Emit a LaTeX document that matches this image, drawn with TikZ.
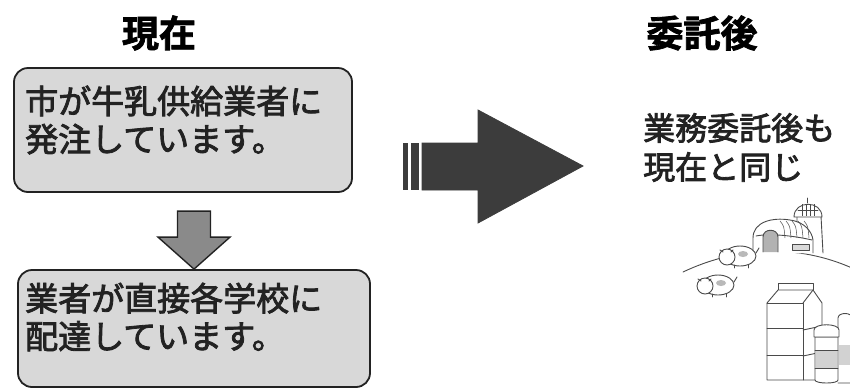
\documentclass[tikz,border=0pt]{standalone}
\usepackage{fontspec}
\newfontfamily\jp{Noto Sans CJK JP}[FakeBold=2.5]
\newfontfamily\jpheavy{Noto Sans CJK JP}[UprightFont={* Bold}, FakeBold=2]
\usetikzlibrary{calc}
\definecolor{boxfill}{HTML}{D8D8D8}
\definecolor{ink}{HTML}{222222}
\definecolor{downfill}{HTML}{8A8A8A}
\definecolor{bigfill}{HTML}{3C3C3C}
\definecolor{linegray}{HTML}{4A4A4A}
\tikzset{
  title/.style={font=\jpheavy\fontsize{37}{37}\selectfont, text=black, inner sep=0pt},
  panel/.style={draw=ink, line width=1.8pt, fill=boxfill, rounded corners=14pt, inner sep=0pt},
  paneltext/.style={font=\jp\fontsize{33}{38}\selectfont, text=ink, align=left, anchor=west, inner sep=0pt},
  sidetext/.style={font=\jp\fontsize{32}{39}\selectfont, text=ink, align=left, anchor=west, inner sep=0pt},
  downarrow/.style={draw=ink, line width=1.4pt, fill=downfill, line join=miter},
  bigarrow/.style={fill=bigfill, draw=bigfill, line width=0.8pt},
  sketch/.style={draw=linegray, line width=0.9pt, line join=round, line cap=round},
}
\begin{document}
\begin{tikzpicture}[x=1pt, y=-1pt]
\useasboundingbox (0,0) rectangle (850,389);

% column titles
\node[title] (nowtitle) at (159,33) {現在};
\node[title] (aftertitle) at (702,33) {委託後};

% current flow: order, then delivery
\node[panel, minimum width=338pt, minimum height=124pt] (order) at (183,130) {};
\node[paneltext] (ordertext) at (25,120) {市が牛乳供給業者に\\発注しています。};

\node[panel, minimum width=352pt, minimum height=117pt] (deliver) at (194,328.5) {};
\node[paneltext] (delivertext) at (25,317) {業者が直接各学校に\\配達しています。};

% block arrow pointing down onto the delivery panel
\draw[downarrow] (deliver.north) -- ++(-36,-32) -- ++(19.5,0) -- ++(0,-26)
  -- ++(33,0) -- ++(0,26) -- ++(19.5,0) -- cycle;

% large arrow from the current flow to the situation after outsourcing
\coordinate (bigtail) at (403,166.5);
\coordinate (bigtip) at (583,166);
\fill[bigfill] (bigtail) ++(0,-23.5) rectangle ++(5,47);
\fill[bigfill] (bigtail) ++(8,-23.5) rectangle ++(8,47);
\draw[bigarrow] (bigtip) -- ++(-105,-56) -- ++(0,33) -- ++(-56,0) -- ++(0,47)
  -- ++(56,0) -- ++(0,33) -- cycle;

% situation after outsourcing
\node[sidetext] (sametext) at (643,147.5) {業務委託後も\\現在と同じ};

% farm illustration: hill
\draw[sketch] (683,272) .. controls (740,245) and (800,245) .. (852,268);

% silo
\draw[sketch, fill=white] (797,253) -- (797,216) -- (821,216) -- (823,253);
\draw[sketch, fill=white] (794,217) .. controls (794,200) and (822,200) .. (822,217) -- cycle;
\draw[sketch] (798,210) -- (818,210);
\foreach \sx in {802,806,810,814} \draw[linegray, line width=0.5pt] (\sx,204) -- (\sx,216);
\draw[sketch] (807,203) -- (807,198);

% barn
\draw[sketch, fill=white] (753,253) -- (753,238) .. controls (753,222) and (772,217) .. (790,220)
  .. controls (805,222) and (812,232) .. (813,240) -- (813,253);
\foreach \rx in {780,786,792,798,804} \draw[linegray, line width=0.5pt] (\rx,221) .. controls (\rx+4,226) .. (\rx+5,238);
\draw[sketch] (756,236) .. controls (770,233) and (795,236) .. (812,240);
\draw[sketch, fill=gray!60] (763,252) -- (763,237) .. controls (763,228) and (778,228) .. (778,237) -- (778,252);
\draw[sketch, fill=gray!30] (792,244) rectangle (809,250);

% cows
\foreach \cx/\cy in {740/256, 718/285} {
  \draw[sketch, fill=white] (\cx,\cy) ellipse [x radius=16, y radius=10];
  \draw[sketch, fill=white] (\cx-13,\cy+1) circle [radius=8];
  \draw[sketch] (\cx-20,\cy-6) -- (\cx-17,\cy-4) (\cx-7,\cy-6) -- (\cx-9,\cy-4);
  \fill[gray!55] (\cx+3,\cy-2) ellipse [x radius=5, y radius=3];
  \draw[sketch] (\cx-6,\cy+9) -- (\cx-6,\cy+12) (\cx+8,\cy+9) -- (\cx+8,\cy+12);
  \draw[sketch] (\cx+16,\cy-3) -- (\cx+19,\cy-8);
}

% milk carton
\draw[sketch, fill=white] (778,283) rectangle (813,290);
\draw[sketch, fill=white] (767,303) -- (778,290) -- (813,290) -- (822,303) -- (822,380) -- (767,380) -- cycle;
\draw[sketch] (767,303) -- (803,303) -- (803,380);
\draw[sketch] (803,303) -- (813,290);
\draw[sketch] (767,328) -- (803,328) (767,355) -- (803,355);
\draw[sketch] (803,330) -- (822,326) (803,356) -- (822,352);

% jars
\draw[sketch, fill=white] (838,330) -- (838,318) .. controls (838,312) and (852,312) .. (852,318) -- (852,383) -- (838,383);
\fill[gray!35] (839,345) rectangle (851,365);
\draw[sketch, fill=white] (815,337) -- (815,380) .. controls (815,384) and (838,384) .. (838,380) -- (838,337) -- cycle;
\fill[gray!35] (816,350) rectangle (837,368);
\draw[sketch] (815,350) -- (838,350) (815,368) -- (838,368);
\draw[sketch, fill=white] (814,337) -- (814,330) .. controls (814,323) and (839,323) .. (839,330) -- (839,337) -- cycle;
\end{tikzpicture}
\end{document}
